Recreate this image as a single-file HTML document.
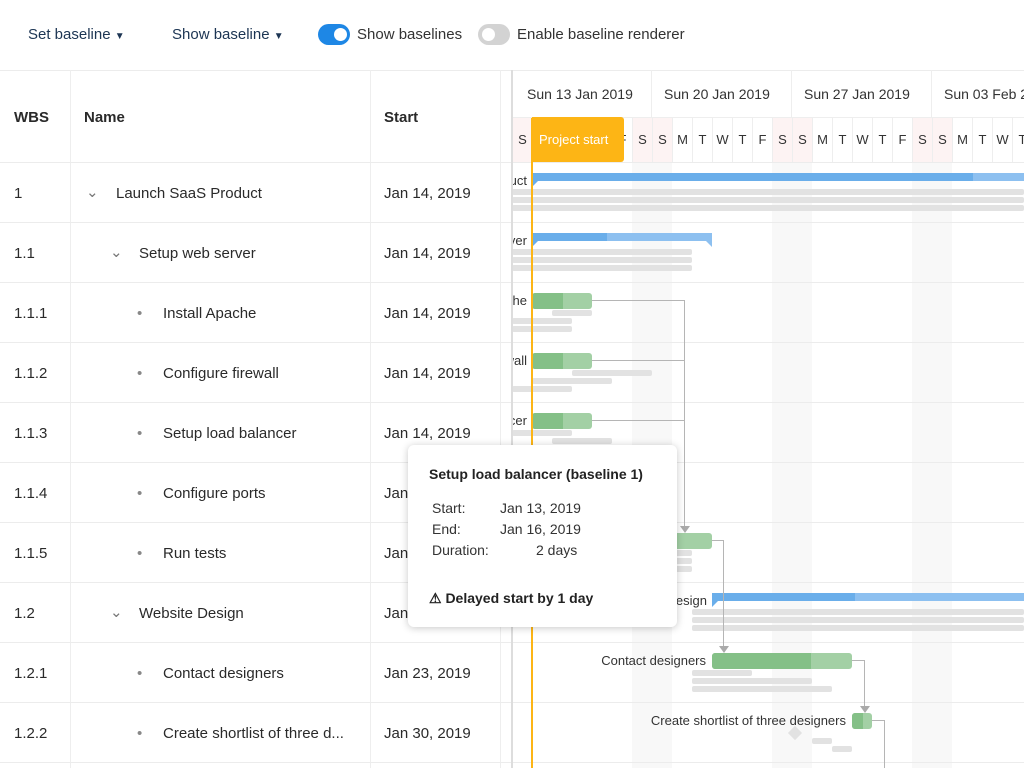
<!DOCTYPE html>
<html><head><meta charset="utf-8"><style>
*{box-sizing:border-box;margin:0;padding:0}
body{width:1024px;height:768px;overflow:hidden;background:#fff;font-family:"Liberation Sans",sans-serif;color:#2a2a2a;position:relative}
.a{position:absolute;white-space:nowrap}
.tb{font-size:15px;color:#1c3553;top:26px}
.tog{position:absolute;top:24px;width:32px;height:21px;border-radius:11px}
.tog i{position:absolute;top:4px;width:13px;height:13px;border-radius:50%;background:#fff}
.hl{position:absolute;left:0;width:1024px;height:1px;background:#ececec}
.cell{position:absolute;font-size:15px;color:#2a2a2a;white-space:nowrap}
.b{position:absolute;height:6px;background:#e2e2e2;border-radius:2px}
.g{position:absolute;height:16px;border-radius:3px;background:#a3d0a5;overflow:hidden}
.g i{position:absolute;left:0;top:0;bottom:0;background:#84c087}
.p{position:absolute;height:8px;background:#8dc0f0}
.p i{position:absolute;left:0;top:0;bottom:0;background:#6aaeea}
.lbl{position:absolute;font-size:13px;color:#333;white-space:nowrap;text-align:right;width:300px}
.day{position:absolute;top:118px;width:20px;height:44px;text-align:center;font-size:13px;line-height:44px;border-left:1px solid #eee;color:#333}
.we{background:#fdf3f3}
.ln{position:absolute;background:#b5b5b5}
</style></head><body>
<div class="a tb" style="left:28px">Set baseline <span style="font-size:10px">&#9660;</span></div>
<div class="a tb" style="left:172px">Show baseline <span style="font-size:10px">&#9660;</span></div>
<div class="tog" style="left:318px;background:#1e87e5"><i style="left:16px"></i></div>
<div class="a tb" style="left:357px;color:#333">Show baselines</div>
<div class="tog" style="left:478px;background:#d3d3d3"><i style="left:4px"></i></div>
<div class="a tb" style="left:517px;color:#333">Enable baseline renderer</div>

<div class="hl" style="top:70px"></div>
<!-- left grid -->
<div class="a" style="left:70px;top:70px;width:1px;height:698px;background:#eee"></div>
<div class="a" style="left:370px;top:70px;width:1px;height:698px;background:#eee"></div>
<div class="a" style="left:500px;top:70px;width:1px;height:698px;background:#eee"></div>
<div class="cell" style="left:14px;top:109px;font-weight:bold">WBS</div>
<div class="cell" style="left:84px;top:109px;font-weight:bold">Name</div>
<div class="cell" style="left:384px;top:109px;font-weight:bold">Start</div>

<!-- timeline -->
<div class="a" style="left:512px;top:70px;width:512px;height:698px;overflow:hidden">
 <div class="a" style="left:120px;top:92px;width:40px;height:620px;background:#f8f8f8"></div>
 <div class="a" style="left:260px;top:92px;width:40px;height:620px;background:#f8f8f8"></div>
 <div class="a" style="left:400px;top:92px;width:40px;height:620px;background:#f8f8f8"></div>
 <div class="a" style="left:0;top:0;width:512px;height:48px;border-bottom:1px solid #eee"></div>
 <div class="a" style="left:139px;top:0;width:1px;height:48px;background:#eee"></div>
 <div class="a" style="left:279px;top:0;width:1px;height:48px;background:#eee"></div>
 <div class="a" style="left:419px;top:0;width:1px;height:48px;background:#eee"></div>
 <div class="a" style="left:15px;top:16px;font-size:14px;color:#333">Sun 13 Jan 2019</div>
 <div class="a" style="left:152px;top:16px;font-size:14px;color:#333">Sun 20 Jan 2019</div>
 <div class="a" style="left:292px;top:16px;font-size:14px;color:#333">Sun 27 Jan 2019</div>
 <div class="a" style="left:432px;top:16px;font-size:14px;color:#333">Sun 03 Feb 2019</div>
</div>
<div class="a" style="left:512px;top:118px;width:512px;height:44px;overflow:hidden">
<div style="position:relative;left:-512px;top:-118px">
<div class="day we" style="left:512px">S</div><div class="day" style="left:532px">M</div><div class="day" style="left:552px">T</div><div class="day" style="left:572px">W</div><div class="day" style="left:592px">T</div><div class="day" style="left:612px">F</div><div class="day we" style="left:632px">S</div>
<div class="day we" style="left:652px">S</div><div class="day" style="left:672px">M</div><div class="day" style="left:692px">T</div><div class="day" style="left:712px">W</div><div class="day" style="left:732px">T</div><div class="day" style="left:752px">F</div><div class="day we" style="left:772px">S</div>
<div class="day we" style="left:792px">S</div><div class="day" style="left:812px">M</div><div class="day" style="left:832px">T</div><div class="day" style="left:852px">W</div><div class="day" style="left:872px">T</div><div class="day" style="left:892px">F</div><div class="day we" style="left:912px">S</div>
<div class="day we" style="left:932px">S</div><div class="day" style="left:952px">M</div><div class="day" style="left:972px">T</div><div class="day" style="left:992px">W</div><div class="day" style="left:1012px">T</div>
</div></div>

<div class="hl" style="top:162px"></div><div class="hl" style="top:222px"></div><div class="hl" style="top:282px"></div><div class="hl" style="top:342px"></div><div class="hl" style="top:402px"></div><div class="hl" style="top:462px"></div><div class="hl" style="top:522px"></div><div class="hl" style="top:582px"></div><div class="hl" style="top:642px"></div><div class="hl" style="top:702px"></div><div class="hl" style="top:762px"></div>

<!-- rows text -->
<div class="cell" style="left:14px;top:185px">1</div><div class="cell" style="left:86px;top:183px;color:#777">&#8964;</div><div class="cell" style="left:116px;top:185px">Launch SaaS Product</div><div class="cell" style="left:384px;top:185px">Jan 14, 2019</div>
<div class="cell" style="left:14px;top:245px">1.1</div><div class="cell" style="left:110px;top:243px;color:#777">&#8964;</div><div class="cell" style="left:139px;top:245px">Setup web server</div><div class="cell" style="left:384px;top:245px">Jan 14, 2019</div>
<div class="cell" style="left:14px;top:305px">1.1.1</div><div class="cell" style="left:137px;top:305px;color:#888">•</div><div class="cell" style="left:163px;top:305px">Install Apache</div><div class="cell" style="left:384px;top:305px">Jan 14, 2019</div>
<div class="cell" style="left:14px;top:365px">1.1.2</div><div class="cell" style="left:137px;top:365px;color:#888">•</div><div class="cell" style="left:163px;top:365px">Configure firewall</div><div class="cell" style="left:384px;top:365px">Jan 14, 2019</div>
<div class="cell" style="left:14px;top:425px">1.1.3</div><div class="cell" style="left:137px;top:425px;color:#888">•</div><div class="cell" style="left:163px;top:425px">Setup load balancer</div><div class="cell" style="left:384px;top:425px">Jan 14, 2019</div>
<div class="cell" style="left:14px;top:485px">1.1.4</div><div class="cell" style="left:137px;top:485px;color:#888">•</div><div class="cell" style="left:163px;top:485px">Configure ports</div><div class="cell" style="left:384px;top:485px">Jan</div>
<div class="cell" style="left:14px;top:545px">1.1.5</div><div class="cell" style="left:137px;top:545px;color:#888">•</div><div class="cell" style="left:163px;top:545px">Run tests</div><div class="cell" style="left:384px;top:545px">Jan</div>
<div class="cell" style="left:14px;top:605px">1.2</div><div class="cell" style="left:110px;top:603px;color:#777">&#8964;</div><div class="cell" style="left:139px;top:605px">Website Design</div><div class="cell" style="left:384px;top:605px">Jan</div>
<div class="cell" style="left:14px;top:665px">1.2.1</div><div class="cell" style="left:137px;top:665px;color:#888">•</div><div class="cell" style="left:163px;top:665px">Contact designers</div><div class="cell" style="left:384px;top:665px">Jan 23, 2019</div>
<div class="cell" style="left:14px;top:725px">1.2.2</div><div class="cell" style="left:137px;top:725px;color:#888">•</div><div class="cell" style="left:163px;top:725px">Create shortlist of three d...</div><div class="cell" style="left:384px;top:725px">Jan 30, 2019</div>

<!-- bars area -->
<div class="a" style="left:512px;top:162px;width:512px;height:606px;overflow:hidden">
<div style="position:absolute;left:-512px;top:-162px;width:1024px;height:768px">
<div class="lbl" style="left:227px;top:173px">Launch SaaS Product</div>
<div class="lbl" style="left:227px;top:233px">Setup web server</div>
<div class="lbl" style="left:227px;top:293px">Install Apache</div>
<div class="lbl" style="left:227px;top:353px">Configure firewall</div>
<div class="lbl" style="left:227px;top:413px">Setup load balancer</div>
<div class="lbl" style="left:407px;top:593px">Website Design</div>
<div class="lbl" style="left:406px;top:653px">Contact designers</div>
<div class="lbl" style="left:546px;top:713px">Create shortlist of three designers</div>

<div class="b" style="left:512px;width:512px;top:189px"></div><div class="b" style="left:512px;width:512px;top:197px"></div><div class="b" style="left:512px;width:512px;top:205px"></div>
<div class="p" style="left:532px;width:492px;top:173px"><i style="width:441px"></i></div>
<div class="b" style="left:512px;width:180px;top:249px"></div><div class="b" style="left:512px;width:180px;top:257px"></div><div class="b" style="left:512px;width:180px;top:265px"></div>
<div class="p" style="left:532px;width:180px;top:233px"><i style="width:75px"></i></div>
<div class="a" style="left:532px;top:241px;border-top:6px solid #6aaeea;border-right:6px solid transparent"></div>
<div class="a" style="left:706px;top:241px;border-top:6px solid #8dc0f0;border-left:6px solid transparent"></div>
<div class="a" style="left:532px;top:181px;border-top:6px solid #6aaeea;border-right:6px solid transparent"></div>

<div class="b" style="left:552px;width:40px;top:310px"></div><div class="b" style="left:512px;width:60px;top:318px"></div><div class="b" style="left:512px;width:60px;top:326px"></div>
<div class="g" style="left:532px;width:60px;top:293px"><i style="width:31px"></i></div>
<div class="b" style="left:572px;width:80px;top:370px"></div><div class="b" style="left:532px;width:80px;top:378px"></div><div class="b" style="left:512px;width:60px;top:386px"></div>
<div class="g" style="left:532px;width:60px;top:353px"><i style="width:31px"></i></div>
<div class="b" style="left:512px;width:60px;top:430px"></div><div class="b" style="left:552px;width:60px;top:438px"></div>
<div class="g" style="left:532px;width:60px;top:413px"><i style="width:31px"></i></div>
<div class="b" style="left:672px;width:20px;top:550px"></div><div class="b" style="left:672px;width:20px;top:558px"></div><div class="b" style="left:672px;width:20px;top:566px"></div>
<div class="g" style="left:652px;width:60px;top:533px"><i style="width:25px"></i></div>

<div class="b" style="left:692px;width:332px;top:609px"></div><div class="b" style="left:692px;width:332px;top:617px"></div><div class="b" style="left:692px;width:332px;top:625px"></div>
<div class="p" style="left:712px;width:312px;top:593px"><i style="width:143px"></i></div>
<div class="a" style="left:712px;top:601px;border-top:6px solid #6aaeea;border-right:6px solid transparent"></div>
<div class="b" style="left:692px;width:60px;top:670px"></div><div class="b" style="left:692px;width:120px;top:678px"></div><div class="b" style="left:692px;width:140px;top:686px"></div>
<div class="g" style="left:712px;width:140px;top:653px"><i style="width:99px"></i></div>
<div class="a" style="left:790px;top:728px;width:10px;height:10px;background:#e2e2e2;transform:rotate(45deg)"></div>
<div class="b" style="left:812px;width:20px;top:738px"></div><div class="b" style="left:832px;width:20px;top:746px"></div>
<div class="g" style="left:852px;width:20px;top:713px"><i style="width:11px"></i></div>

<div class="ln" style="left:592px;top:300px;width:92px;height:1px"></div>
<div class="ln" style="left:592px;top:360px;width:92px;height:1px"></div>
<div class="ln" style="left:592px;top:420px;width:92px;height:1px"></div>
<div class="ln" style="left:684px;top:300px;width:1px;height:228px"></div>
<div class="a" style="left:680px;top:526px;border-top:7px solid #aaa;border-left:5px solid transparent;border-right:5px solid transparent"></div>
<div class="ln" style="left:712px;top:540px;width:11px;height:1px"></div>
<div class="ln" style="left:723px;top:540px;width:1px;height:108px"></div>
<div class="a" style="left:719px;top:646px;border-top:7px solid #aaa;border-left:5px solid transparent;border-right:5px solid transparent"></div>
<div class="ln" style="left:852px;top:660px;width:12px;height:1px"></div>
<div class="ln" style="left:864px;top:660px;width:1px;height:48px"></div>
<div class="a" style="left:860px;top:706px;border-top:7px solid #aaa;border-left:5px solid transparent;border-right:5px solid transparent"></div>
<div class="ln" style="left:872px;top:720px;width:12px;height:1px"></div>
<div class="ln" style="left:884px;top:720px;width:1px;height:48px"></div>
</div></div>

<div class="a" style="left:511px;top:70px;width:2px;height:698px;background:#ddd"></div>
<div class="a" style="left:531px;top:118px;width:2px;height:650px;background:#fdb515"></div>
<div class="a" style="left:532px;top:117px;width:92px;height:45px;background:#fdb515;border-radius:0 3px 3px 0;color:#fff;font-size:13px;line-height:45px;padding-left:7px">Project start</div>

<!-- tooltip -->
<div class="a" style="left:408px;top:445px;width:269px;height:182px;background:#fff;border-radius:6px;box-shadow:0 1px 8px rgba(0,0,0,.22)"></div>
<div class="a" style="left:429px;top:466px;font-size:14px;font-weight:bold;color:#222">Setup load balancer (baseline 1)</div>
<div class="a" style="left:432px;top:500px;font-size:14px;color:#333">Start:</div><div class="a" style="left:500px;top:500px;font-size:14px;color:#333">Jan 13, 2019</div>
<div class="a" style="left:432px;top:521px;font-size:14px;color:#333">End:</div><div class="a" style="left:500px;top:521px;font-size:14px;color:#333">Jan 16, 2019</div>
<div class="a" style="left:432px;top:542px;font-size:14px;color:#333">Duration:</div><div class="a" style="left:536px;top:542px;font-size:14px;color:#333">2 days</div>
<div class="a" style="left:429px;top:590px;font-size:14px;font-weight:bold;color:#222">&#9888; Delayed start by 1 day</div>
</body></html>
